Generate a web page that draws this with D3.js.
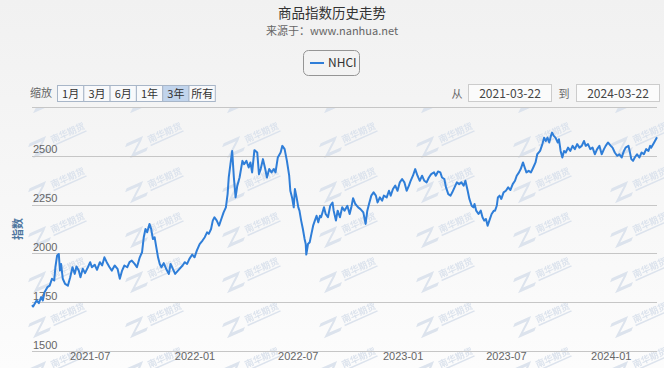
<html>
<head>
<meta charset="utf-8">
<title>商品指数历史走势</title>
<script src="https://d3js.org/d3.v7.min.js"></script>
<style>
body { margin: 0; background: #f4f4f4; }
svg { display: block; font-family: "Noto Sans CJK SC", "Liberation Sans", sans-serif; }
</style>
</head>
<body>
<svg width="664" height="368"></svg>

<script>
// 南华商品指数 NHCI, 2021-03-22 到 2024-03-22
var startDay = "2021-03-22";
var endDay = "2024-03-22";

// days after startDay
var dayOffsets = [
0,2,8,12,16,19,22,27,31,35,39,41,44,47,49,51,54,58,63,67,71,75,78,82,85,89,93,98,102,105,
110,114,119,123,127,131,136,140,145,150,154,158,162,167,171,175,180,184,189,193,196,199,202,206,209,212,215,218,221,224,
227,231,236,240,243,247,251,256,
264,268,272,276,281,285,289,294,299,303,307,310,314,317,320,324,328,332,336,340,343,345,348,351,354,357,
360,364,369,372,376,380,383,386,390,395,398,401,405,409,412,416,420,424,427,431,436,439,443,447,451,453,456,459,461,464,
467,469,472,475,478,480,481,484,487,490,493,496,499,502,505,507,512,515,519,523,527,529,533,
536,540,544,548,553,557,560,563,567,572,576,581,585,588,591,595,599,603,606,610,614,617,622,626,629,633,637,641,645,649,
653,657,661,664,668,672,676,680,684,688,692,696,700,705,708,712,716,719,723,726,730,734,737,741,745,749,753,757,760,764,
767,771,774,776,779,783,787,790,793,796,799,802,806,810,
812,815,817,820,823,827,831,835,839,843,847,850,854,857,861,864,867,871,875,879,883,886,891,895,898,901,904,907,910,912,
915,918,922,924,927,930,933,936,940,944,948,952,956,960,964,968,971,975,979,983,987,991,995,999,1003,1006,1010,1015,1018,1022,
1026,1030,1034,1038,1041,1046,1048,1051,1054,1057,1061,1065,1069,1073,1077,1081,1084,1086,1091,1096
];

var values = [
1735,1728,1759,1745,1776,1759,1801,1827,1835,1870,1861,1929,1989,1997,1912,1946,1870,1844,1835,1878,1929,1895,1933,1912,1878,1921,1899,1929,1955,1929,
1942,1916,1955,1938,1980,1955,1929,1912,1938,1921,1870,1912,1938,1929,1955,1963,1946,1929,1980,2006,2083,2125,2108,2151,2125,2074,2083,2031,1980,1946,
1929,1950,1916,1895,1946,1921,1895,1912,
1938,1955,1946,1972,1994,1980,2014,2048,2066,2083,2108,2100,2125,2168,2185,2168,2142,2176,2210,2236,2304,2389,2457,2525,2389,2287,
2347,2389,2474,2457,2474,2440,2466,2415,2529,2517,2406,2432,2483,2432,2389,2432,2415,2432,2415,2491,2517,2551,2534,2474,2398,2321,2287,2236,2330,2287,
2236,2219,2168,2125,2074,2048,1994,2048,2057,2100,2142,2168,2193,2159,2193,2185,2236,2202,2185,2244,2261,2219,2168,
2219,2185,2236,2219,2244,2202,2236,2283,2253,2236,2227,2210,2151,2219,2253,2296,2313,2296,2261,2287,2270,2296,2287,2321,2296,2330,2347,2321,2364,2381,
2364,2321,2347,2372,2398,2432,2398,2372,2398,2372,2364,2389,2406,2415,2398,2420,2415,2389,2381,2338,2304,2296,2313,2338,2364,2355,2364,2347,2372,2321,
2279,2244,2236,2253,2219,2202,2219,2185,2168,2176,2142,2168,2202,2219,
2219,2244,2287,2296,2279,2313,2321,2338,2325,2355,2372,2398,2415,2432,2466,2440,2415,2423,2415,2440,2466,2508,2525,2560,2593,2576,2593,2568,2602,2619,
2602,2593,2568,2585,2525,2491,2525,2517,2542,2525,2551,2534,2560,2542,2551,2576,2551,2560,2534,2542,2508,2534,2551,2508,2534,2551,2568,2551,2542,2517,
2500,2508,2491,2525,2542,2551,2525,2483,2474,2491,2508,2491,2517,2508,2534,2525,2551,2542,2568,2595
];

var yGridValues = [1500, 1750, 2000, 2250, 2500, 2750];
var yTickLabels = ["1500", "1750", "2000", "2250", "2500"];
var xTickLabels = ["2021-07", "2022-01", "2022-07", "2023-01", "2023-07", "2024-01"];
var rangeButtons = ["1月", "3月", "6月", "1年", "3年", "所有"];
var selectedButton = "3年";
var seriesName = "NHCI";

var parseDay = d3.timeParse("%Y-%m-%d");
var parseMonth = d3.timeParse("%Y-%m");
var start = parseDay(startDay), end = parseDay(endDay);

var data = values.map(function(v, i) {
	return { date: d3.timeDay.offset(start, dayOffsets[i]), value: v };
});

var svg = d3.select("svg");
var plot = { left: 32, right: 657, top: 107, bottom: 351 };

var xScale = d3.scaleTime().domain([start, end]).range([plot.left, plot.right]);
var yScale = d3.scaleLinear().domain([1500, 2750]).range([plot.bottom, plot.top]);

// background
var defs = svg.append("defs");
var bg = defs.append("linearGradient").attr("id", "bg").attr("x1", 0).attr("y1", 0).attr("x2", 0).attr("y2", 1);
bg.append("stop").attr("offset", "0%").attr("stop-color", "#f1f1f1");
bg.append("stop").attr("offset", "100%").attr("stop-color", "#fcfcfc");
svg.append("rect").attr("width", 664).attr("height", 368).attr("fill", "url(#bg)");

// 南华期货 watermark tiles
var wm = defs.append("pattern").attr("id", "wm")
	.attr("patternUnits", "userSpaceOnUse")
	.attr("x", 28).attr("y", 115).attr("width", 97).attr("height", 45);
var logo = wm.append("g").attr("transform", "translate(26,24) rotate(-24)").attr("fill", "#dce3ed");
logo.append("path").attr("d", "M-24,-6 L-6,-6 L-10,-2 L-20,6 L-6,6 L-9,9 L-27,9 L-17,1 L-12,-3 L-27,-3 Z");
logo.append("text").attr("x", -3).attr("y", 3).attr("font-size", 9).attr("font-weight", "bold").text("南华期货");
logo.append("rect").attr("x", -3).attr("y", 5).attr("width", 36).attr("height", 1.5);
svg.append("rect").attr("x", 20).attr("y", 108).attr("width", 644).attr("height", 260).attr("fill", "url(#wm)");

// title
svg.append("text").attr("x", 332).attr("y", 17.5).attr("text-anchor", "middle")
	.attr("font-size", 13.5).attr("fill", "#333").text("商品指数历史走势");
svg.append("text").attr("x", 332).attr("y", 35).attr("text-anchor", "middle")
	.attr("font-size", 11).attr("fill", "#666").text("来源于：www.nanhua.net");

// legend
var legend = svg.append("g").attr("transform", "translate(303,50)");
legend.append("rect").attr("x", 0.5).attr("y", 0.5).attr("width", 56).attr("height", 25).attr("rx", 5)
	.attr("fill", "none").attr("stroke", "#959595");
legend.append("line").attr("x1", 7).attr("x2", 21).attr("y1", 13).attr("y2", 13)
	.attr("stroke", "#2f7ed8").attr("stroke-width", 2);
legend.append("text").attr("x", 25).attr("y", 17).attr("font-size", 12).attr("fill", "#333").text(seriesName);

// range selector
svg.append("text").attr("x", 30).attr("y", 97).attr("font-size", 11).attr("fill", "#666").text("缩放");
var btnW = 26.3;
rangeButtons.forEach(function(b, i) {
	var bx = 57.5 + i * btnW;
	svg.append("rect").attr("x", bx).attr("y", 85.5).attr("width", btnW).attr("height", 16)
		.attr("fill", b == selectedButton ? "#c1d4ec" : "#f8f9fb").attr("stroke", "#a8b6c8");
	svg.append("text").attr("x", bx + btnW / 2).attr("y", 97.5).attr("text-anchor", "middle")
		.attr("font-size", 11).attr("fill", "#333").text(b);
});

svg.append("text").attr("x", 457).attr("y", 97.5).attr("text-anchor", "middle")
	.attr("font-size", 11).attr("fill", "#666").text("从");
svg.append("text").attr("x", 564).attr("y", 97.5).attr("text-anchor", "middle")
	.attr("font-size", 11).attr("fill", "#666").text("到");
[[468.5, startDay], [576.5, endDay]].forEach(function(d) {
	svg.append("rect").attr("x", d[0]).attr("y", 84.5).attr("width", 83).attr("height", 17)
		.attr("fill", "#fbfbfb").attr("stroke", "#cccccc");
	svg.append("text").attr("x", d[0] + 41.5).attr("y", 97.5).attr("text-anchor", "middle")
		.attr("font-size", 12).attr("fill", "#444").text(d[1]);
});

// y grid + labels inside the plot
var yAxis = d3.axisRight(yScale).tickValues(yGridValues)
	.tickSize(plot.right - plot.left)
	.tickFormat(function(d) { return yTickLabels.indexOf(String(d)) >= 0 ? d : ""; });
var gy = svg.append("g").attr("transform", "translate(" + plot.left + ",0)").call(yAxis);
gy.select(".domain").remove();
gy.selectAll("line").attr("stroke", "#c6c6c6").attr("shape-rendering", "crispEdges");
gy.selectAll("text").attr("x", 1).attr("dy", -3).attr("text-anchor", "start")
	.attr("font-size", 11).attr("fill", "#666").attr("font-family", null);

svg.append("text").attr("transform", "translate(22,229) rotate(-90)").attr("text-anchor", "middle")
	.attr("font-size", 11).attr("font-weight", "bold").attr("fill", "#4d759e").text("指数");

// x axis
var xAxis = d3.axisBottom(xScale).tickValues(xTickLabels.map(parseMonth))
	.tickSize(4).tickFormat(d3.timeFormat("%Y-%m"));
var gx = svg.append("g").attr("transform", "translate(0," + plot.bottom + ")").call(xAxis);
gx.select(".domain").remove();
gx.selectAll("line").attr("stroke", "#d3dce6");
gx.selectAll("text").attr("font-size", 11).attr("fill", "#666").attr("dy", "0.55em").attr("y", 3)
	.attr("font-family", null);

// series
defs.append("clipPath").attr("id", "clip").append("rect")
	.attr("x", plot.left - 2).attr("y", plot.top).attr("width", plot.right - plot.left + 4).attr("height", plot.bottom - plot.top);
var line = d3.line().x(function(d) { return xScale(d.date); }).y(function(d) { return yScale(d.value); });
svg.append("path").datum(data).attr("clip-path", "url(#clip)")
	.attr("d", line).attr("fill", "none").attr("stroke", "#2f7ed8")
	.attr("stroke-width", 2).attr("stroke-linejoin", "round");
</script>
</body>
</html>
